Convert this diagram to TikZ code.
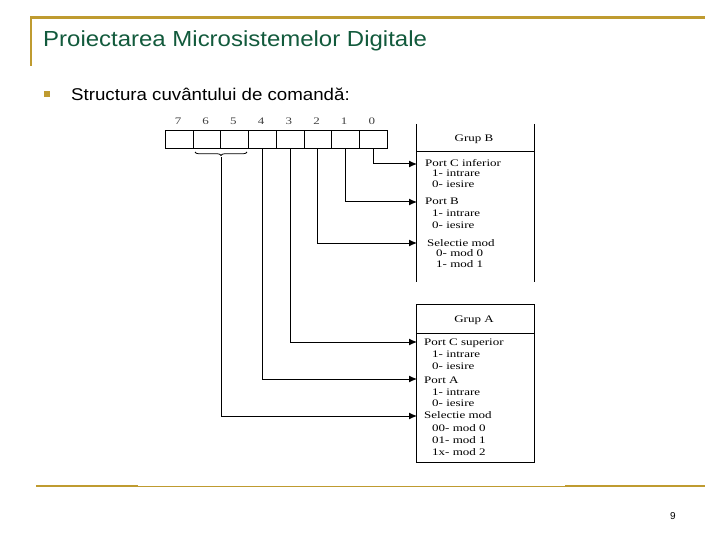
\documentclass[tikz,border=0pt]{standalone}
\usepackage{fontspec}
\setmainfont{Liberation Serif}
\newfontfamily\arialf{Liberation Sans}
\newfontfamily\diagf[FakeStretch=1.3]{Liberation Serif}
\newfontfamily\titlef[FakeStretch=1.1]{Liberation Sans}
\usetikzlibrary{arrows.meta,decorations.pathreplacing}
\definecolor{gold}{RGB}{191,155,48}
\definecolor{titlegreen}{RGB}{18,90,60}
\tikzset{
  cell/.style={draw,line width=1pt,minimum width=27.7pt,minimum height=18pt,inner sep=0pt,anchor=north west},
  digit/.style={font=\diagf\fontsize{10}{10}\selectfont,text=black!75,inner sep=0pt},
  lbl/.style={font=\diagf\fontsize{10}{10}\selectfont,anchor=west,inner sep=0pt},
  grp/.style={font=\diagf\fontsize{10}{10}\selectfont,inner sep=0pt},
  wire/.style={line width=1pt,-{Latex[length=8pt,width=7pt]}},
  boxline/.style={line width=1pt},
}
\begin{document}
\begin{tikzpicture}[x=1pt,y=-1pt]
\useasboundingbox (0,0) rectangle (720,540);
% frame decoration
\draw[gold,line width=3pt] (30,18) -- (705,18);
\draw[gold,line width=2.5pt] (31,17) -- (31,66);
\node[anchor=west,inner sep=0pt,text=titlegreen,font=\titlef\fontsize{21.8}{22}\selectfont] (title) at (43,41) {Proiectarea Microsistemelor Digitale};
\node[fill=gold,minimum size=6pt,inner sep=0pt] (bul) at (46.5,94) {};
\node[anchor=west,inner sep=0pt,font=\titlef\fontsize{17}{17}\selectfont] (sub) at (71,94) {Structura cuvântului de comandă:};
\draw[gold,line width=2.5pt] (36,486) -- (138,486);
\draw[gold,line width=1.6pt] (138,486.4) -- (565,486.4);
\draw[gold,line width=2.5pt] (565,486) -- (705,486);
\node[font=\arialf\fontsize{10}{10}\selectfont,inner sep=0pt] (pg) at (673,516) {9};
% register cells
\foreach \b [count=\i from 0] in {7,6,5,4,3,2,1,0}{
  \node[cell] (c\b) at ({165+27.7*\i},130) {};
  \node[digit] (d\b) at ({178+27.7*\i},121) {\b};
}
% brace under bits 6 and 5
\draw[line width=0.8pt,decorate,decoration={brace,amplitude=3.5pt,mirror}] (195,152) -- (247,152);
\coordinate (brtip) at (221,157);
% Grup B box
\draw[boxline] (416,124) -- (416,282);
\draw[boxline] (534,124) -- (534,282);
\draw[boxline] (416,152) -- (534,152);
\node[grp] (gB) at (474,139) {Grup B};
\node[lbl] (b1) at (425,163) {Port C inferior};
\node[lbl] (b2) at (432,173) {1- intrare};
\node[lbl] (b3) at (432,184) {0- iesire};
\node[lbl] (b4) at (425,201) {Port B};
\node[lbl] (b5) at (432,213) {1- intrare};
\node[lbl] (b6) at (432,225) {0- iesire};
\node[lbl] (b7) at (427,243) {Selectie mod};
\node[lbl] (b8) at (436,253) {0- mod 0};
\node[lbl] (b9) at (436,264) {1- mod 1};
% Grup A box
\draw[boxline] (416,304) rectangle (534,462);
\draw[boxline] (416,333) -- (534,333);
\node[grp] (gA) at (474,320) {Grup A};
\node[lbl] (a1) at (424,343) {Port C superior};
\node[lbl] (a2) at (432,354) {1- intrare};
\node[lbl] (a3) at (432,366) {0- iesire};
\node[lbl] (a4) at (424,380) {Port A};
\node[lbl] (a5) at (432,392) {1- intrare};
\node[lbl] (a6) at (432,403) {0- iesire};
\node[lbl] (a7) at (424,415) {Selectie mod};
\node[lbl] (a8) at (432,428) {00- mod 0};
\node[lbl] (a9) at (432,440) {01- mod 1};
\node[lbl] (a10) at (432,452) {1x- mod 2};
% arrow targets on the box edges
\coordinate (t0) at (417,164);
\coordinate (t1) at (417,202);
\coordinate (t2) at (417,243);
\coordinate (t3) at (417,342);
\coordinate (t4) at (417,379);
\coordinate (t5) at (417,416);
% wires
\draw[wire] (c0.south) |- (t0);
\draw[wire] (c1.south) |- (t1);
\draw[wire] (c2.south) |- (t2);
\draw[wire] (c3.south) |- (t3);
\draw[wire] (c4.south) |- (t4);
\draw[wire] (brtip) |- (t5);
\end{tikzpicture}
\end{document}
